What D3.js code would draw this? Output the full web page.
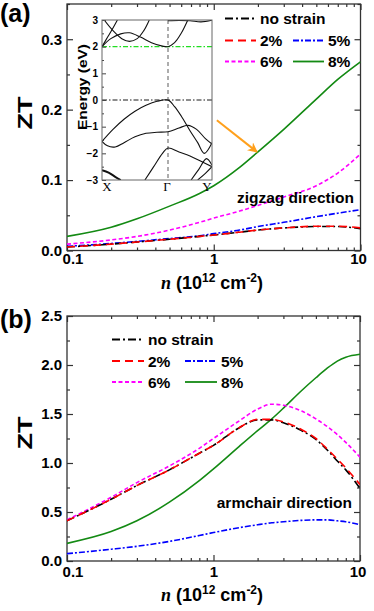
<!DOCTYPE html>
<html>
<head>
<meta charset="utf-8">
<script src="https://cdnjs.cloudflare.com/ajax/libs/d3/7.8.5/d3.min.js"></script>
<style>
  html, body { margin: 0; padding: 0; background: #fff; }
  svg { display: block; }
  text { font-family: "Liberation Sans", Arial, sans-serif; font-weight: bold; }
</style>
</head>
<body>
<svg id="chart" width="374" height="611"></svg>
<script>
// ---------------- DATA ----------------
const seriesNames = ["no strain", "2%", "5%", "6%", "8%"];
const seriesColors = ["#000000", "#ff0000", "#0000ff", "#ff00ff", "#138a13"];

// Panel (a): zigzag direction
const nA = [0.1, 0.2, 0.3, 0.5, 0.8, 1, 1.5, 2, 3, 5, 7, 10];
const zigzagNoStrain = [0.005, 0.009, 0.012, 0.016, 0.020, 0.022, 0.026, 0.029, 0.032, 0.034, 0.034, 0.031];
const zigzag2 = [0.005, 0.009, 0.012, 0.016, 0.020, 0.022, 0.026, 0.029, 0.032, 0.0345, 0.0345, 0.032];
const zigzag5 = [0.006, 0.010, 0.013, 0.017, 0.021, 0.024, 0.029, 0.034, 0.040, 0.048, 0.053, 0.058];
const zigzag6 = [0.009, 0.015, 0.020, 0.029, 0.040, 0.046, 0.056, 0.064, 0.076, 0.092, 0.110, 0.137];
const zigzag8 = [0.020, 0.033, 0.045, 0.063, 0.081, 0.092, 0.118, 0.140, 0.172, 0.215, 0.243, 0.268];

// Panel (b): armchair direction
const nB = [0.1, 0.2, 0.3, 0.5, 0.8, 1, 1.5, 2, 2.5, 3, 4, 5, 6, 7, 8, 10];
const armNoStrain = [0.41, 0.63, 0.77, 0.93, 1.10, 1.18, 1.36, 1.44, 1.44, 1.41, 1.33, 1.24, 1.13, 1.02, 0.93, 0.74];
const arm2 = [0.41, 0.63, 0.77, 0.93, 1.10, 1.18, 1.36, 1.445, 1.445, 1.42, 1.34, 1.25, 1.14, 1.04, 0.95, 0.78];
const arm5 = [0.075, 0.12, 0.15, 0.20, 0.26, 0.29, 0.34, 0.37, 0.39, 0.40, 0.415, 0.42, 0.42, 0.41, 0.40, 0.37];
const arm6 = [0.42, 0.65, 0.80, 0.97, 1.15, 1.25, 1.43, 1.55, 1.60, 1.59, 1.53, 1.45, 1.37, 1.29, 1.21, 1.06];
const arm8 = [0.18, 0.30, 0.41, 0.60, 0.82, 0.94, 1.17, 1.33, 1.45, 1.56, 1.74, 1.87, 1.97, 2.04, 2.08, 2.11];

// Tick labels
const xTickValues = [0.1, 1, 10];
const xTickLabels = ["0.1", "1", "10"];
const yTicksA = [0, 0.1, 0.2, 0.3];
const yTickLabelsA = ["0.0", "0.1", "0.2", "0.3"];
const yTicksB = [0, 0.5, 1.0, 1.5, 2.0, 2.5];
const yTickLabelsB = ["0.0", "0.5", "1.0", "1.5", "2.0", "2.5"];

// Inset band structure (k: X=0, Γ=0.6, Y=1; energy in eV)
const kPoints = [0, 0.6, 1];
const kLabels = ["X", "Γ", "Y"];
const energyTicks = [3, 2, 1, 0, -1, -2, -3];
const bandC1 = [[0, 2.0], [0.08, 2.3], [0.17, 2.48], [0.25, 2.52], [0.35, 2.36], [0.45, 2.15], [0.55, 2.02], [0.6, 2.0], [0.66, 2.15], [0.72, 2.5], [0.78, 3.0]];
const bandC2 = [[0, 2.0], [0.05, 2.35], [0.1, 2.7], [0.14, 3.0]];
const bandC3 = [[0.02, 3.0], [0.1, 2.6], [0.18, 2.3], [0.25, 2.2], [0.32, 2.3], [0.38, 2.6], [0.43, 3.0]];
const bandC4 = [[0.6, 2.97], [0.7, 2.98], [0.8, 2.97], [0.9, 2.93], [1.0, 2.99]];
const bandV1 = [[0, -1.55], [0.1, -1.1], [0.2, -0.72], [0.3, -0.42], [0.4, -0.2], [0.5, -0.05], [0.6, 0], [0.66, -0.25], [0.72, -0.6], [0.8, -1.15], [0.87, -1.6], [0.93, -2.0], [1.0, -1.6]];
const bandV2 = [[0, -1.55], [0.05, -1.72], [0.12, -1.76], [0.2, -1.6], [0.3, -1.38], [0.4, -1.25], [0.5, -1.21], [0.6, -1.19], [0.7, -1.05], [0.78, -0.95], [0.86, -1.1], [0.94, -1.45], [1.0, -1.65]];
const bandV3 = [[0.39, -3.0], [0.47, -2.5], [0.55, -2.0], [0.6, -1.8], [0.7, -1.95], [0.8, -2.1], [0.9, -2.3], [1.0, -2.5]];
const bandV4 = [[0.81, -3.0], [0.88, -2.6], [0.95, -2.2], [1.0, -2.45]];
const bandV5 = [[0.87, -3.0], [0.94, -2.75], [1.0, -2.5]];
const bandV6 = [[0, -2.63], [0.06, -2.72], [0.12, -2.88], [0.17, -3.0]];

// Arrow annotation (data coords of panel a): from [n, ZT] to [n, ZT]
const arrowFrom = [1.05, 0.185];
const arrowTo = [1.97, 0.140];

// ---------------- DRAWING ----------------
const svg = d3.select("#chart");
const dashPatterns = ["8,3,2,3", "8,5", "6,2,2,2", "4,2.5", null];
const axisColor = "#333";
const xLabelShift = [5.5, 0, -2.5];

function drawPanel(cfg) {
  const x = d3.scaleLog().domain([0.1, 10]).range([cfg.x0, cfg.x1]);
  const y = d3.scaleLinear().domain(cfg.yDomain).range([cfg.y1, cfg.y0]);
  const g = svg.append("g");

  const minorX = [];
  [0.1, 1].forEach(d => { for (let i = 2; i <= 9; i++) minorX.push(d * i); });
  const minorY = d3.range(cfg.yDomain[0], cfg.yDomain[1] + 1e-9, cfg.yMinor)
    .filter(v => !cfg.yTicks.some(t => Math.abs(t - v) < 1e-9));

  function styleAxis(sel) {
    sel.selectAll("path.domain").remove();
    sel.selectAll("line").attr("stroke", axisColor).attr("stroke-width", 1.2);
    sel.selectAll("text").attr("fill", "#000").style("font-size", "15px")
       .style("font-family", '"Liberation Sans", Arial, sans-serif').style("font-weight", "bold");
  }

  const bx = g.append("g").attr("transform", `translate(0,${cfg.y1})`)
    .call(d3.axisBottom(x).tickValues(xTickValues).tickSizeInner(-6).tickSizeOuter(0).tickPadding(cfg.xPad)
      .tickFormat((d, i) => xTickLabels[i])).call(styleAxis);
  bx.selectAll("text").attr("dx", (d, i) => xLabelShift[i]);
  g.append("g").attr("transform", `translate(0,${cfg.y1})`)
    .call(d3.axisBottom(x).tickValues(minorX).tickSizeInner(-3).tickSizeOuter(0).tickFormat("")).call(styleAxis);
  g.append("g").attr("transform", `translate(0,${cfg.y0})`)
    .call(d3.axisTop(x).tickValues(xTickValues).tickSizeInner(-6).tickSizeOuter(0).tickFormat("")).call(styleAxis);
  g.append("g").attr("transform", `translate(0,${cfg.y0})`)
    .call(d3.axisTop(x).tickValues(minorX).tickSizeInner(-3).tickSizeOuter(0).tickFormat("")).call(styleAxis);
  g.append("g").attr("transform", `translate(${cfg.x0},0)`)
    .call(d3.axisLeft(y).tickValues(cfg.yTicks).tickSizeInner(-6).tickSizeOuter(0).tickPadding(5)
      .tickFormat((d, i) => cfg.yLabels[i])).call(styleAxis);
  g.append("g").attr("transform", `translate(${cfg.x0},0)`)
    .call(d3.axisLeft(y).tickValues(minorY).tickSizeInner(-3).tickSizeOuter(0).tickFormat("")).call(styleAxis);
  g.append("g").attr("transform", `translate(${cfg.x1},0)`)
    .call(d3.axisRight(y).tickValues(cfg.yTicks).tickSizeInner(-6).tickSizeOuter(0).tickFormat("")).call(styleAxis);
  g.append("g").attr("transform", `translate(${cfg.x1},0)`)
    .call(d3.axisRight(y).tickValues(minorY).tickSizeInner(-3).tickSizeOuter(0).tickFormat("")).call(styleAxis);

  g.append("rect").attr("x", cfg.x0).attr("y", cfg.y0)
    .attr("width", cfg.x1 - cfg.x0).attr("height", cfg.y1 - cfg.y0)
    .attr("fill", "none").attr("stroke", axisColor).attr("stroke-width", 1.3);

  const clipId = "clip" + cfg.id;
  svg.append("clipPath").attr("id", clipId).append("rect")
    .attr("x", cfg.x0).attr("y", cfg.y0).attr("width", cfg.x1 - cfg.x0).attr("height", cfg.y1 - cfg.y0);

  const line = d3.line().x(d => x(d[0])).y(d => y(d[1])).curve(d3.curveMonotoneX);
  const curves = g.append("g").attr("clip-path", `url(#${clipId})`);
  const order = [4, 3, 2, 0, 1];
  order.forEach(i => {
    const pts = cfg.n.map((n, j) => [n, cfg.series[i][j]]);
    curves.append("path").attr("d", line(pts)).attr("fill", "none")
      .attr("stroke", seriesColors[i]).attr("stroke-width", 1.6)
      .attr("stroke-dasharray", dashPatterns[i]);
  });

  const L = cfg.legend;
  const items = [
    { i: 0, lx: L.c1, ly: L.r1 },
    { i: 1, lx: L.c1, ly: L.r2 },
    { i: 2, lx: L.c2, ly: L.r2 },
    { i: 3, lx: L.c1, ly: L.r3 },
    { i: 4, lx: L.c2, ly: L.r3 }
  ];
  items.forEach(it => {
    g.append("line").attr("x1", it.lx).attr("x2", it.lx + L.len).attr("y1", it.ly).attr("y2", it.ly)
      .attr("stroke", seriesColors[it.i]).attr("stroke-width", 1.8)
      .attr("stroke-dasharray", dashPatterns[it.i]);
    g.append("text").attr("x", it.lx + L.len + 4).attr("y", it.ly + 5.5)
      .style("font-size", "15.5px").text(seriesNames[it.i]);
  });

  g.append("text").attr("x", cfg.dirX).attr("y", cfg.dirY).attr("text-anchor", "end")
    .style("font-size", "15.5px").text(cfg.dirText);

  g.append("text").attr("transform", `translate(${cfg.ztX},${cfg.ztY}) rotate(-90)`)
    .attr("text-anchor", "middle").attr("dy", "0.36em")
    .attr("textLength", 33).attr("lengthAdjust", "spacingAndGlyphs")
    .style("font-size", "21px").text("ZT");

  g.append("text").attr("x", 0).attr("y", cfg.labelY).style("font-size", "25px").text(cfg.label);

  const xt = g.append("text").attr("x", 212).attr("y", cfg.xTitleY).attr("text-anchor", "middle")
    .style("font-size", "18px");
  xt.append("tspan").style("font-family", '"Liberation Serif", "Times New Roman", serif')
    .style("font-style", "italic").text("n");
  xt.append("tspan").text(" (10");
  xt.append("tspan").attr("dy", -7).style("font-size", "12px").text("12");
  xt.append("tspan").attr("dy", 7).text(" cm");
  xt.append("tspan").attr("dy", -7).style("font-size", "12px").text("-2");
  xt.append("tspan").attr("dy", 7).text(")");

  return { x, y, g };
}

const panelA = drawPanel({
  id: "A", x0: 67, x1: 360.5, y0: 4, y1: 250.5, yDomain: [0, 0.35], yMinor: 0.05,
  yTicks: yTicksA, yLabels: yTickLabelsA, xPad: 3, n: nA,
  series: [zigzagNoStrain, zigzag2, zigzag5, zigzag6, zigzag8],
  legend: { c1: 225, c2: 293, len: 31, r1: 18.5, r2: 40.5, r3: 61.5 },
  dirText: "zigzag direction", dirX: 354, dirY: 203,
  ztX: 24, ztY: 113, label: "(a)", labelY: 22, xTitleY: 289
});

const panelB = drawPanel({
  id: "B", x0: 67, x1: 360, y0: 316, y1: 561, yDomain: [0, 2.5], yMinor: 0.25,
  yTicks: yTicksB, yLabels: yTickLabelsB, xPad: 5, n: nB,
  series: [armNoStrain, arm2, arm5, arm6, arm8],
  legend: { c1: 112, c2: 185, len: 32, r1: 339.5, r2: 361, r3: 382 },
  dirText: "armchair direction", dirX: 352, dirY: 508,
  ztX: 24, ztY: 433, label: "(b)", labelY: 328, xTitleY: 601
});

const defs = svg.append("defs");
defs.append("marker").attr("id", "arrowhead").attr("viewBox", "0 0 10 10")
  .attr("refX", 9).attr("refY", 5).attr("markerWidth", 5).attr("markerHeight", 5)
  .attr("orient", "auto").attr("markerUnits", "strokeWidth")
  .append("path").attr("d", "M0,0 L10,5 L0,10 L3,5 Z").attr("fill", "#ffa01c");
svg.append("line")
  .attr("x1", panelA.x(arrowFrom[0])).attr("y1", panelA.y(arrowFrom[1]))
  .attr("x2", panelA.x(arrowTo[0])).attr("y2", panelA.y(arrowTo[1]))
  .attr("stroke", "#ffa01c").attr("stroke-width", 2).attr("marker-end", "url(#arrowhead)");

// ---------------- INSET ----------------
const ins = { x0: 102, x1: 212, y0: 20, y1: 180 };
const kx = d3.scaleLinear().domain([0, 1]).range([ins.x0, ins.x1]);
const ey = d3.scaleLinear().domain([-3, 3]).range([ins.y1, ins.y0]);
const gi = svg.append("g");
gi.append("rect").attr("x", ins.x0).attr("y", ins.y0).attr("width", ins.x1 - ins.x0)
  .attr("height", ins.y1 - ins.y0).attr("fill", "#fff");
svg.append("clipPath").attr("id", "clipInset").append("rect")
  .attr("x", ins.x0).attr("y", ins.y0).attr("width", ins.x1 - ins.x0).attr("height", ins.y1 - ins.y0);

gi.append("line").attr("x1", ins.x0).attr("x2", ins.x1).attr("y1", ey(0)).attr("y2", ey(0))
  .attr("stroke", "#000").attr("stroke-width", 0.9).attr("stroke-dasharray", "5,2,1.5,2");
gi.append("line").attr("x1", ins.x0).attr("x2", ins.x1).attr("y1", ey(2)).attr("y2", ey(2))
  .attr("stroke", "#22dd22").attr("stroke-width", 1.2).attr("stroke-dasharray", "5,2,1.5,2");
gi.append("line").attr("x1", kx(kPoints[1])).attr("x2", kx(kPoints[1])).attr("y1", ins.y0).attr("y2", ins.y1)
  .attr("stroke", "#777").attr("stroke-width", 1.2).attr("stroke-dasharray", "4,3");

const bline = d3.line().x(d => kx(d[0])).y(d => ey(d[1])).curve(d3.curveCatmullRom.alpha(0.5));
const bandsG = gi.append("g").attr("clip-path", "url(#clipInset)");
[bandC1, bandC2, bandC3, bandC4, bandV1, bandV2, bandV3, bandV4, bandV5].forEach(b => {
  bandsG.append("path").attr("d", bline(b)).attr("fill", "none").attr("stroke", "#111").attr("stroke-width", 1.1);
});
bandsG.append("path").attr("d", bline(bandV6)).attr("fill", "none").attr("stroke", "#111").attr("stroke-width", 2);

const insAxis = gi.append("g").attr("transform", `translate(${ins.x0},0)`)
  .call(d3.axisLeft(ey).tickValues(energyTicks).tickSizeInner(-4).tickSizeOuter(0).tickPadding(4)
    .tickFormat(d3.format("d")));
const insMinor = gi.append("g").attr("transform", `translate(${ins.x0},0)`)
  .call(d3.axisLeft(ey).tickValues(d3.range(-2.5, 3, 1)).tickSizeInner(-2).tickSizeOuter(0).tickFormat(""));
[insAxis, insMinor].forEach(s => {
  s.selectAll("path.domain").remove();
  s.selectAll("line").attr("stroke", "#444");
  s.selectAll("text").attr("fill", "#000").style("font-size", "10px").style("font-weight", "bold")
    .style("font-family", '"Liberation Sans", Arial, sans-serif');
});
gi.append("rect").attr("x", ins.x0).attr("y", ins.y0).attr("width", ins.x1 - ins.x0)
  .attr("height", ins.y1 - ins.y0).attr("fill", "none").attr("stroke", "#666").attr("stroke-width", 1);

gi.selectAll("text.klab").data(kPoints).enter().append("text").attr("class", "klab")
  .attr("x", (d, i) => kx(d) + (i === 0 ? 5 : (i === 2 ? -5 : -1))).attr("y", 191)
  .attr("text-anchor", "middle")
  .style("font-family", '"Liberation Serif", "Times New Roman", serif').style("font-weight", "normal")
  .style("font-size", "13px").text((d, i) => kLabels[i]);

gi.append("text").attr("transform", `translate(82,87) rotate(-90)`).attr("text-anchor", "middle")
  .attr("dy", "0.36em").attr("textLength", 86).attr("lengthAdjust", "spacingAndGlyphs")
  .style("font-size", "12.5px").text("Energy (eV)");
</script>
</body>
</html>
